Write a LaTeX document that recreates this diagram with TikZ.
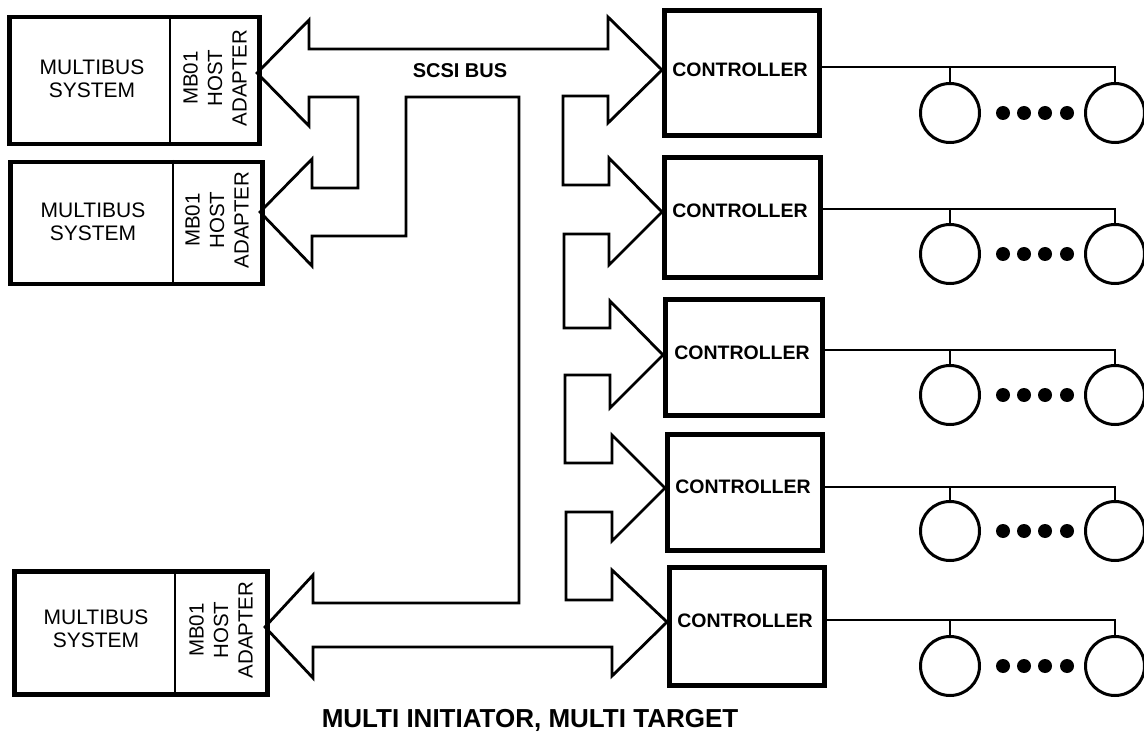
\documentclass[tikz,border=0pt]{standalone}
\usepackage{fontspec}
\setmainfont{Liberation Sans}
\usetikzlibrary{calc}
\begin{document}
\begin{tikzpicture}[x=1pt,y=-1pt, line join=miter,
  thinl/.style={line width=2.8pt},
  hostbox/.style={draw, line width=4.5pt, inner sep=0pt, anchor=north west},
  ctrlbox/.style={draw, line width=5pt, inner sep=0pt, anchor=north west},
  disk/.style={draw, circle, line width=3pt, minimum size=59pt, inner sep=0pt},
  dotn/.style={fill, circle, minimum size=14pt, inner sep=0pt},
  sysfont/.style={font=\fontsize{21}{23}\selectfont, align=center, inner sep=0pt},
  adfont/.style={font=\fontsize{20.5}{24.5}\selectfont, align=center, rotate=90, inner sep=0pt},
  ctlfont/.style={font=\fontsize{19.5}{22}\selectfont\bfseries, inner sep=0pt},
  ]
\useasboundingbox (0,0) rectangle (1144,746);

% ---- host systems ----
\node[hostbox, minimum width=250pt, minimum height=127pt] (h1) at (7,15) {};
\draw[thinl] (170,15) -- (170,142);
\node[sysfont] (s1) at (92,79) {MULTIBUS\\SYSTEM};
\node[adfont] (a1) at (215,78) {MB01\\HOST\\ADAPTER};

\node[hostbox, minimum width=252pt, minimum height=122pt] (h2) at (8,160) {};
\draw[thinl] (173,160) -- (173,282);
\node[sysfont] (s2) at (93,222) {MULTIBUS\\SYSTEM};
\node[adfont] (a2) at (217,220) {MB01\\HOST\\ADAPTER};

\node[hostbox, minimum width=253pt, minimum height=123pt] (h3) at (12,569) {};
\draw[thinl] (175,569) -- (175,692);
\node[sysfont] (s3) at (96,629) {MULTIBUS\\SYSTEM};
\node[adfont] (a3) at (221,630) {MB01\\HOST\\ADAPTER};

% ---- controllers ----
\node[ctrlbox, minimum width=155pt, minimum height=125pt] (c1) at (662,8) {};
\node[ctrlbox, minimum width=156pt, minimum height=120pt] (c2) at (662,155) {};
\node[ctrlbox, minimum width=157pt, minimum height=116pt] (c3) at (663,297) {};
\node[ctrlbox, minimum width=155pt, minimum height=116pt] (c4) at (665,432) {};
\node[ctrlbox, minimum width=155pt, minimum height=118pt] (c5) at (667,565) {};
\node[ctlfont] (t1) at (740,70) {CONTROLLER};
\node[ctlfont] (t2) at (740,211) {CONTROLLER};
\node[ctlfont] (t3) at (742,353) {CONTROLLER};
\node[ctlfont] (t4) at (743,487) {CONTROLLER};
\node[ctlfont] (t5) at (745,621) {CONTROLLER};

% ---- SCSI bus outline ----
\draw[thinl]
 (257,73) -- (309,20) -- (309,49) -- (608,49) -- (608,17) -- (662,70)
 -- (608,123) -- (608,96) -- (563,96) -- (563,185) -- (609,185) -- (609,158)
 -- (662,212) -- (609,265) -- (609,234) -- (564,234) -- (564,328) -- (610,328)
 -- (610,301) -- (663,355) -- (610,408) -- (610,375) -- (565,375) -- (565,463)
 -- (612,463) -- (612,435) -- (665,488) -- (612,541) -- (612,512) -- (566,512)
 -- (566,600) -- (612,600) -- (612,570) -- (667,622) -- (612,676) -- (612,647)
 -- (313,647) -- (313,678) -- (265,627) -- (313,575) -- (313,603) -- (519,603)
 -- (519,97) -- (406,97) -- (406,236) -- (312,236) -- (312,266) -- (260,212)
 -- (312,159) -- (312,188) -- (358,188) -- (358,97) -- (309,97) -- (309,126)
 -- cycle;
\node[font=\fontsize{20}{22}\selectfont\bfseries, inner sep=0pt] (bus) at (460,71) {SCSI BUS};

% ---- disks ----
\foreach \i/\ly/\cy in {1/67/113, 2/209/254, 3/350/395, 4/487/531, 5/620/666}{
  \node[disk] (d\i a) at (950,\cy) {};
  \node[disk] (d\i b) at (1115,\cy) {};
  \node[dotn] (p\i a) at (1003,\cy) {};
  \node[dotn] (p\i b) at (1024,\cy) {};
  \node[dotn] (p\i c) at (1045,\cy) {};
  \node[dotn] (p\i d) at (1067,\cy) {};
  \coordinate (j\i) at (1115,\ly);
  \draw[thinl] (c\i.east |- j\i) -- (j\i) -- (d\i b.north);
  \draw[thinl] (d\i a.north) -- (d\i a.north |- j\i);
}

% ---- caption ----
\node[font=\fontsize{26}{28}\selectfont\bfseries, inner sep=0pt] (cap) at (530,720) {MULTI INITIATOR, MULTI TARGET};
\end{tikzpicture}
\end{document}
